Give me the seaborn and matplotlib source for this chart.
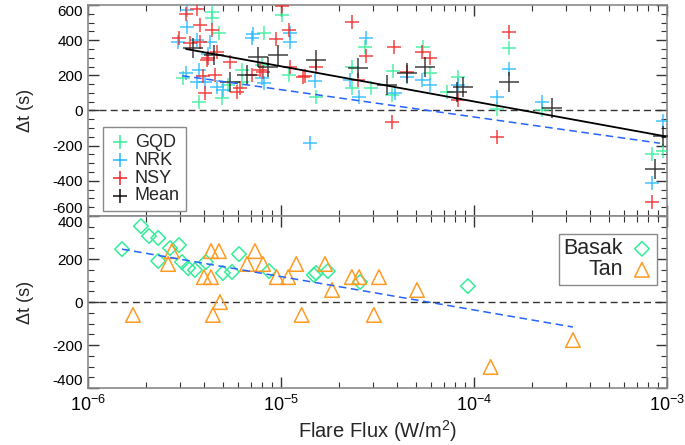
import numpy as np
import pandas as pd
import matplotlib
matplotlib.use("Agg")
import matplotlib.pyplot as plt
import seaborn as sns
from matplotlib.ticker import LogLocator, MultipleLocator, NullFormatter

# ---- top panel: delay per station vs flare flux ----
gqd_flux = [4.39e-6, 4.39e-6, 4.77e-6, 8.17e-6, 1.01e-5, 3.76e-6, 3.11e-6, 4.94e-6, 5.31e-6,
            6.28e-6, 6.28e-6, 7.97e-6, 1.10e-5, 2.72e-5, 2.33e-5, 2.33e-5, 2.92e-5, 3.80e-5,
            3.76e-5, 5.44e-5, 5.92e-5, 8.26e-5, 7.24e-5, 1.52e-4, 1.31e-4, 2.25e-4, 1.52e-5,
            8.36e-4, 9.53e-4]
gqd_dt = [560, 526, 440, 440, 543, 46, 183, 69, 143,
          229, 160, 257, 200, 360, 246, 126, 126, 223,
          86, 360, 211, 189, 103, 354, 11, 0, 74,
          -246, -229]

nrk_flux = [3.26e-6, 3.26e-6, 2.93e-6, 3.67e-6, 4.29e-6, 4.19e-6, 3.22e-6, 3.76e-6, 3.67e-6,
            4.04e-6, 4.66e-6, 5.00e-6, 7.16e-6, 7.08e-6, 7.97e-6, 8.17e-6, 1.11e-5, 1.11e-5,
            2.76e-5, 1.50e-5, 2.28e-5, 2.54e-5, 3.90e-5, 4.50e-5, 5.38e-5, 5.92e-5, 8.26e-5,
            1.31e-4, 1.52e-4, 2.25e-4, 1.41e-5, 9.53e-4, 8.36e-4]
nrk_dt = [571, 474, 389, 400, 389, 320, 211, 229, 160,
          160, 131, 114, 434, 411, 183, 154, 440, 389,
          411, 166, 171, 74, 97, 189, 171, 143, 143,
          74, 234, 46, -183, -57, -411]

nsy_flux = [3.22e-6, 3.67e-6, 3.80e-6, 4.39e-6, 2.96e-6, 3.38e-6, 3.80e-6, 4.14e-6, 4.19e-6,
            4.66e-6, 5.44e-6, 4.55e-6, 3.94e-6, 4.04e-6, 5.92e-6, 6.13e-6, 7.08e-6, 7.78e-6,
            8.07e-6, 9.42e-6, 1.01e-5, 1.10e-5, 1.11e-5, 1.33e-5, 2.33e-5, 2.76e-5, 3.85e-5,
            4.50e-5, 5.38e-5, 5.92e-5, 8.26e-5, 1.52e-4, 3.76e-5, 1.52e-5, 1.30e-5, 2.51e-5,
            1.31e-4, 8.36e-4]
nsy_dt = [549, 577, 486, 457, 411, 383, 389, 286, 297,
          331, 274, 200, 194, 97, 103, 126, 200, 229,
          217, 406, 594, 457, 246, 194, 503, 309, 360,
          217, 331, 297, 57, 446, -66, 246, 189, 171,
          -149, -520]

mean_flux = [3.50e-6, 4.50e-6, 5.44e-6, 6.67e-6, 7.60e-6, 8.57e-6, 9.65e-6, 1.52e-5, 2.51e-5,
             3.54e-5, 4.50e-5, 5.57e-5, 8.17e-5, 8.77e-5, 1.52e-4, 2.54e-4, 9.53e-4, 8.66e-4]
mean_dt = [354, 314, 160, 200, 303, 246, 314, 286, 240,
           143, 211, 246, 103, 131, 160, 17, -143, -331]

# ---- bottom panel: literature values ----
basak_flux = [1.50e-6, 1.88e-6, 2.07e-6, 2.31e-6, 2.31e-6, 2.66e-6, 2.96e-6, 3.07e-6, 3.30e-6,
              3.58e-6, 4.08e-6, 5.00e-6, 5.57e-6, 6.06e-6, 8.67e-6, 1.48e-5, 1.52e-5, 1.75e-5,
              2.57e-5, 9.30e-5]
basak_dt = [246, 353, 307, 298, 191, 251, 265, 186, 158,
            149, 186, 135, 140, 223, 144, 126, 135, 144,
            93, 74]

tan_flux = [1.71e-6, 2.60e-6, 2.72e-6, 4.34e-6, 4.77e-6, 3.99e-6, 4.34e-6, 4.44e-6, 4.83e-6,
            7.33e-6, 6.67e-6, 8.07e-6, 9.50e-6, 1.09e-5, 1.20e-5, 1.28e-5, 1.69e-5, 1.84e-5,
            2.33e-5, 2.54e-5, 3.22e-5, 3.03e-5, 5.07e-5, 1.22e-4, 3.26e-4]
tan_dt = [-60, 177, 237, 237, 237, 116, 116, -60, 0,
          237, 177, 177, 116, 116, 177, -60, 177, 56,
          116, 116, 116, -60, 56, -302, -177]

# linear fits in log10(flux): dt = a + b*log10(F)
mean_fit = (-748.6, -200.0)
mean_fit_range = (3.22e-6, 9.8e-4)
lit_fit = (-656.7, -155.0)
lit_fit_range_top = (3.07e-6, 9.2e-4)
lit_fit_range_bot = (1.5e-6, 3.26e-4)

c_gqd = "#33ee99"
c_nrk = "#22b8ff"
c_nsy = "#f02424"
c_tan = "#ff9a22"
c_fit = "#2563ff"

sns.set_theme(style="ticks")
plt.rcParams["font.family"] = ["Liberation Sans", "DejaVu Sans"]
plt.rcParams["mathtext.fontset"] = "custom"
plt.rcParams["mathtext.rm"] = "Liberation Sans"
plt.rcParams["mathtext.default"] = "regular"
plt.rcParams["axes.unicode_minus"] = False

fig = plt.figure(figsize=(6.85, 4.45), dpi=100)
ax1 = fig.add_axes([0.1285, 0.5146, 0.845, 0.4742])
ax2 = fig.add_axes([0.1285, 0.128, 0.845, 0.3865])


def fit_line(ax, coef, rng, **kw):
    xs = np.logspace(np.log10(rng[0]), np.log10(rng[1]), 50)
    ys = coef[0] + coef[1] * np.log10(xs)
    sns.lineplot(x=xs, y=ys, ax=ax, **kw)


# top panel
ax1.axhline(0, color="#333333", lw=1, ls=(0, (5, 3)), zorder=1)
for fx, dt, col, lab in [(gqd_flux, gqd_dt, c_gqd, "GQD"),
                         (nrk_flux, nrk_dt, c_nrk, "NRK"),
                         (nsy_flux, nsy_dt, c_nsy, "NSY")]:
    df = pd.DataFrame({"flux": fx, "dt": dt})
    sns.scatterplot(data=df, x="flux", y="dt", ax=ax1, marker="+", s=110,
                    color=col, linewidth=1.1, alpha=0.85, label=lab, zorder=3)
df_mean = pd.DataFrame({"flux": mean_flux, "dt": mean_dt})
sns.scatterplot(data=df_mean, x="flux", y="dt", ax=ax1, marker="+", s=220,
                color="#111111", linewidth=1.1, alpha=0.8, label="Mean", zorder=4)
fit_line(ax1, mean_fit, mean_fit_range, color="black", lw=1.3, zorder=5)
fit_line(ax1, lit_fit, lit_fit_range_top, color=c_fit, lw=1.1, ls=(0, (5, 3)), zorder=5)

# bottom panel
ax2.axhline(0, color="#333333", lw=1, ls=(0, (5, 3)), zorder=1)
df_b = pd.DataFrame({"flux": basak_flux, "dt": basak_dt})
df_t = pd.DataFrame({"flux": tan_flux, "dt": tan_dt})
sns.scatterplot(data=df_b, x="flux", y="dt", ax=ax2, marker="D", s=55,
                color=c_gqd, facecolor="none", edgecolor=c_gqd, linewidth=1.1,
                label="Basak", zorder=3)
sns.scatterplot(data=df_t, x="flux", y="dt", ax=ax2, marker="^", s=110,
                color=c_tan, facecolor="none", edgecolor=c_tan, linewidth=1.1,
                label="Tan", zorder=3)
fit_line(ax2, lit_fit, lit_fit_range_bot, color=c_fit, lw=1.1, ls=(0, (5, 3)), zorder=5)

for ax in (ax1, ax2):
    ax.set_xscale("log")
    ax.set_xlim(1e-6, 1e-3)
    ax.xaxis.set_major_locator(LogLocator(base=10, numticks=10))
    ax.xaxis.set_minor_locator(LogLocator(base=10, subs=np.arange(2, 10), numticks=10))
    ax.xaxis.set_minor_formatter(NullFormatter())
    ax.yaxis.set_minor_locator(MultipleLocator(50))
    ax.tick_params(which="both", direction="in", top=True, right=True,
                   color="#333333", labelsize=11, labelcolor="black")
    ax.tick_params(which="major", length=8, width=1)
    ax.tick_params(which="minor", length=4, width=0.8)
    for sp in ax.spines.values():
        sp.set_color("#8a8a8a")
        sp.set_linewidth(1.2)
    ax.set_ylabel("\u0394t (s)", fontsize=13)
    ax.yaxis.set_label_coords(-0.093, 0.5)

ax1.set_ylim(-600, 600)
ax1.set_yticks([-600, -400, -200, 0, 200, 400, 600])
ax1.set_xlabel("")
ax1.tick_params(axis="x", labelbottom=False)
ax2.set_ylim(-400, 400)
ax2.set_yticks([-400, -200, 0, 200, 400])
ax2.tick_params(axis="x", labelsize=13, pad=5)
ax2.set_xlabel("Flare Flux (W/m$^{2}$)", fontsize=14.5, labelpad=2)

# keep edge labels inside their own panel
lab1 = ax1.get_yticklabels()
lab1[0].set_va("bottom")
lab1[-1].set_va("top")
lab2 = ax2.get_yticklabels()
lab2[0].set_va("bottom")
lab2[-1].set_va("top")

leg1 = ax1.legend(loc="upper left", bbox_to_anchor=(0.026, 0.42), fontsize=13,
                  frameon=True, fancybox=False, edgecolor="#8a8a8a", framealpha=1,
                  labelspacing=0.05, handletextpad=0.2, handlelength=1.2,
                  borderpad=0.35, borderaxespad=0, markerscale=1.0)
leg1.get_frame().set_linewidth(1.0)
for h in leg1.legend_handles:
    h.set_alpha(1)
    h.set_sizes([110])

leg2 = ax2.legend(loc="upper right", bbox_to_anchor=(0.983, 0.895), fontsize=15.5,
                  frameon=True, fancybox=False, edgecolor="#8a8a8a", framealpha=1,
                  markerfirst=False, labelspacing=0.0, handletextpad=0.4,
                  handlelength=1.0, borderpad=0.2, borderaxespad=0)
leg2.get_frame().set_linewidth(1.0)

fig.savefig("out.png", dpi=100)
